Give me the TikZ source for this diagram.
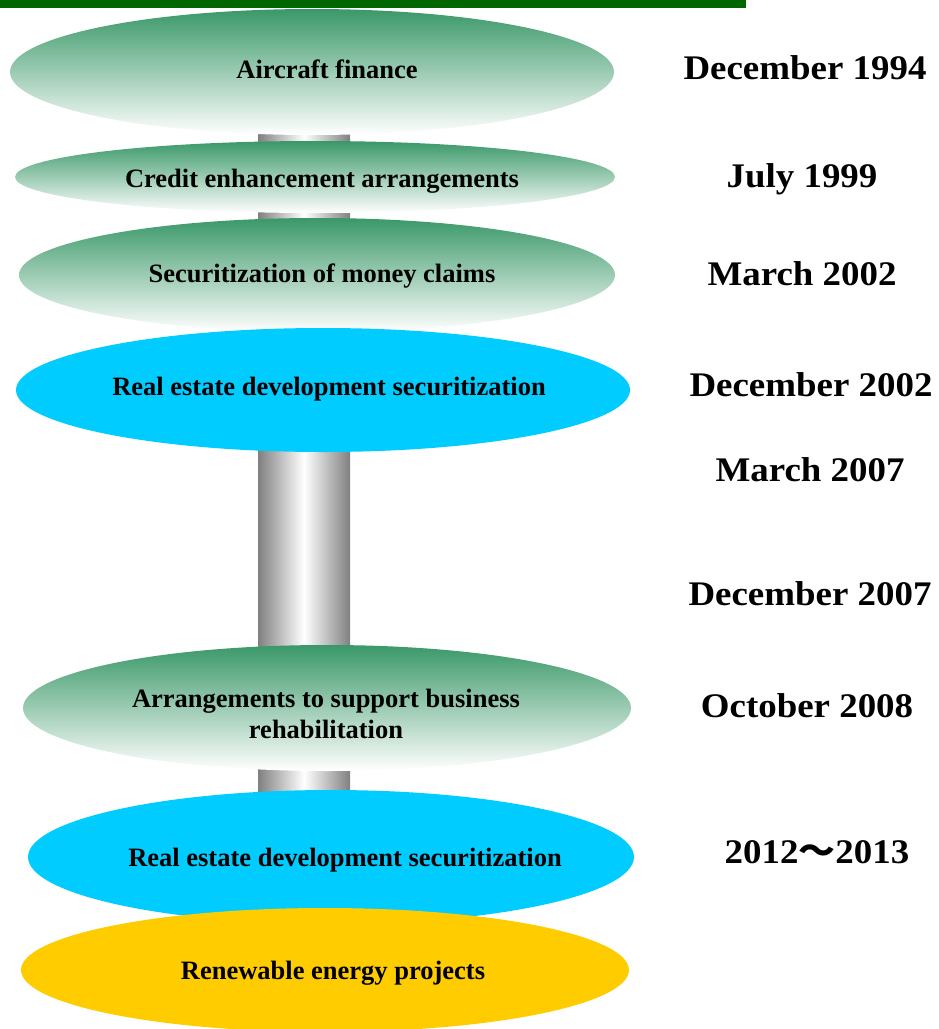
\documentclass[tikz,border=0pt]{standalone}
\usepackage{fontspec}
\setmainfont{Liberation Serif}
\newfontfamily\cjk{Noto Sans CJK JP}
\usetikzlibrary{shapes.geometric}

\definecolor{barGreen}{RGB}{0,102,0}
\definecolor{leafGreen}{RGB}{58,152,104}
\definecolor{skyCyan}{RGB}{0,204,255}
\definecolor{sunYellow}{RGB}{255,204,0}
\definecolor{pillarGray}{RGB}{128,128,128}

\tikzset{
  stage/.style={ellipse, draw=none, inner sep=0pt},
  greenstage/.style={stage, top color=leafGreen, bottom color=white},
  cyanstage/.style={stage, fill=skyCyan},
  yellowstage/.style={stage, fill=sunYellow},
  stagetext/.style={font=\fontsize{26.5}{31}\selectfont\bfseries, align=center, inner sep=0pt},
  datetext/.style={font=\fontsize{34.5}{40}\selectfont\bfseries, inner sep=0pt, anchor=base},
  pillarbox/.style={rectangle, draw=none, inner sep=0pt,
    left color=pillarGray, right color=pillarGray, middle color=white},
}

\newcommand{\wide}[1]{\scalebox{1.07}[1]{#1}}

\begin{document}
\begin{tikzpicture}[x=1pt, y=-1pt]
  \useasboundingbox (0,0) rectangle (939,1029);

  % header bar
  \fill[barGreen] (0,0) rectangle (746,8);

  % central pillar behind the stages
  \node[pillarbox, minimum width=92pt, minimum height=670pt] (pillar) at (304,465) {};

  % stages, top to bottom
  \node[greenstage, minimum width=604pt, minimum height=126pt] (e1) at (312,72) {};
  \node[greenstage, minimum width=600pt, minimum height=72pt]  (e2) at (315,177) {};
  \node[greenstage, minimum width=596pt, minimum height=114pt] (e3) at (317,275) {};
  \node[cyanstage,  minimum width=614pt, minimum height=124pt] (e4) at (323,390) {};
  \node[greenstage, minimum width=608pt, minimum height=126pt] (e5) at (327,708) {};
  \node[cyanstage,  minimum width=606pt, minimum height=134pt] (e6) at (331,857) {};
  \node[yellowstage, minimum width=608pt, minimum height=124pt] (e7) at (325,970) {};

  % stage labels
  \node[stagetext, anchor=base] (t1) at (327,78)  {Aircraft finance};
  \node[stagetext, anchor=base] (t2) at (322,187) {Credit enhancement arrangements};
  \node[stagetext, anchor=base] (t3) at (322,282) {Securitization of money claims};
  \node[stagetext, anchor=base] (t4) at (329,395) {Real estate development securitization};
  \node[stagetext] (t5) at (326,714) {Arrangements to support business\\rehabilitation};
  \node[stagetext, anchor=base] (t6) at (345,866) {Real estate development securitization};
  \node[stagetext, anchor=base] (t7) at (333,979) {Renewable energy projects};

  % dates
  \node[datetext] (d1) at (805,79)  {\wide{December 1994}};
  \node[datetext] (d2) at (802,187) {\wide{July 1999}};
  \node[datetext] (d3) at (802,285) {\wide{March 2002}};
  \node[datetext] (d4) at (811,396) {\wide{December 2002}};
  \node[datetext] (d5) at (810,481) {\wide{March 2007}};
  \node[datetext] (d6) at (810,605) {\wide{December 2007}};
  \node[datetext] (d7) at (807,717) {\wide{October 2008}};
  \node[datetext] (d8) at (817,863) {\wide{2012{\cjk 〜}2013}};
\end{tikzpicture}
\end{document}
